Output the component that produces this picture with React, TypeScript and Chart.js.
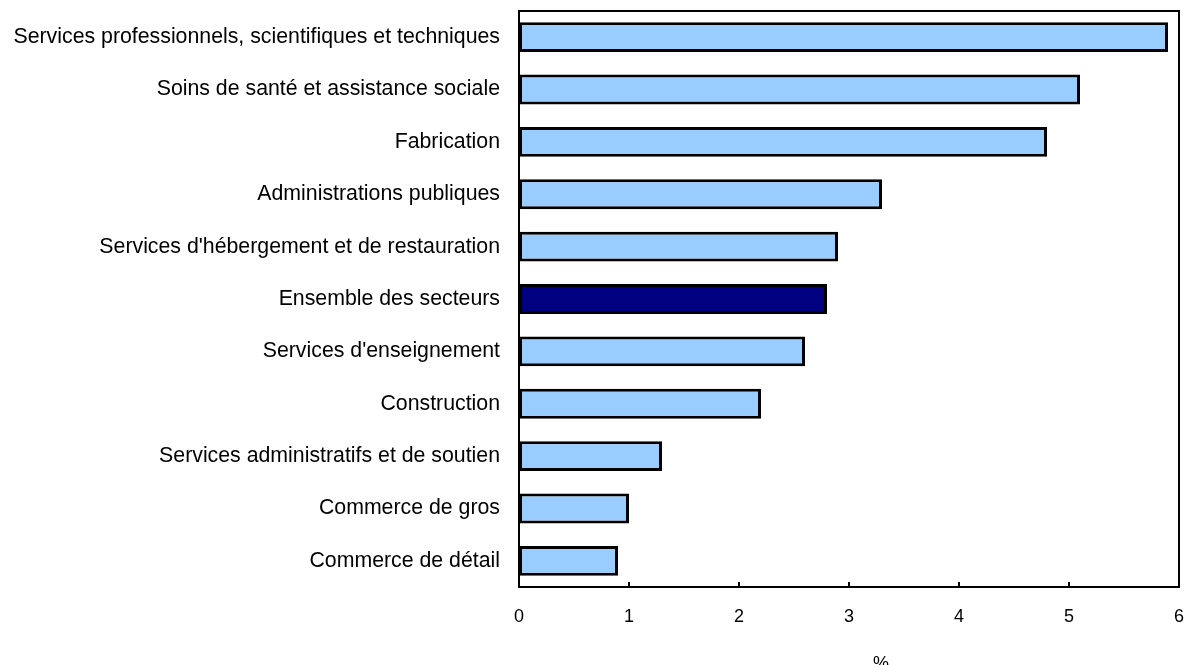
import React, { useEffect, useRef } from "react";
import { Chart, registerables } from "chart.js";

Chart.register(...registerables);

const categories: string[] = [
  "Services professionnels, scientifiques et techniques",
  "Soins de santé et assistance sociale",
  "Fabrication",
  "Administrations publiques",
  "Services d'hébergement et de restauration",
  "Ensemble des secteurs",
  "Services d'enseignement",
  "Construction",
  "Services administratifs et de soutien",
  "Commerce de gros",
  "Commerce de détail",
];

const values: number[] = [5.9, 5.1, 4.8, 3.3, 2.9, 2.8, 2.6, 2.2, 1.3, 1.0, 0.9];

const highlight = "Ensemble des secteurs";
const xTicks: number[] = [0, 1, 2, 3, 4, 5, 6];
const xTitle = "%";

const FONT = "'Liberation Sans', Arial, sans-serif";

const frame = {
  id: "frame",
  afterDatasetsDraw(chart: any) {
    const { ctx, chartArea } = chart;
    const xs = chart.scales.x;
    ctx.save();
    ctx.strokeStyle = "#000";
    ctx.lineWidth = 2;
    ctx.strokeRect(chartArea.left, chartArea.top, chartArea.right - chartArea.left, chartArea.bottom - chartArea.top);
    ctx.beginPath();
    for (const t of xTicks) {
      const px = Math.round(xs.getPixelForValue(t));
      ctx.moveTo(px, chartArea.bottom);
      ctx.lineTo(px, chartArea.bottom - 5);
    }
    ctx.stroke();
    // axis title
    ctx.fillStyle = "#000";
    ctx.font = `18px ${FONT}`;
    ctx.textAlign = "center";
    ctx.textBaseline = "top";
    ctx.fillText(xTitle, (chartArea.left + chartArea.right) / 2 + 32, 655);
    ctx.restore();
  },
};

const zeroPad = (s: any) => {
  s.paddingTop = 0;
  s.paddingBottom = 0;
  s.paddingLeft = 0;
  s.paddingRight = 0;
};

export default function App() {
  const ref = useRef<HTMLCanvasElement | null>(null);
  useEffect(() => {
    if (!ref.current) return;
    const chart = new Chart(ref.current, {
      type: "bar",
      data: {
        labels: categories,
        datasets: [
          {
            data: values,
            backgroundColor: categories.map((c) => (c === highlight ? "#000080" : "#99CCFF")),
            borderColor: "#000",
            borderWidth: 3,
            borderSkipped: false,
            barPercentage: 0.57,
            categoryPercentage: 1,
          },
        ],
      },
      options: {
        indexAxis: "y",
        animation: false,
        responsive: false,
        maintainAspectRatio: false,
        layout: { padding: { top: 11, right: 6, left: 0, bottom: 0 } },
        plugins: { legend: { display: false }, tooltip: { enabled: false } },
        scales: {
          x: {
            min: 0,
            max: 6,
            afterBuildTicks: (s: any) => {
              s.ticks = xTicks.map((v) => ({ value: v }));
            },
            grid: { display: false, drawTicks: false },
            border: { display: false },
            ticks: { color: "#000", font: { family: FONT, size: 18 }, padding: 19 },
            afterFit: (s: any) => {
              zeroPad(s);
              s.height = 78;
            },
          },
          y: {
            grid: { display: false, drawTicks: false },
            border: { display: false },
            ticks: { color: "#000", font: { family: FONT, size: 21.3 }, padding: 19 },
            afterFit: (s: any) => {
              zeroPad(s);
              s.width = 519;
            },
          },
        },
      },
      plugins: [frame],
    });
    return () => chart.destroy();
  }, []);
  return (
    <div style={{ position: "fixed", left: 0, top: 0, width: 1185, height: 665, background: "#fff" }}>
      <canvas ref={ref} width={1185} height={665} style={{ width: 1185, height: 665 }} />
    </div>
  );
}
